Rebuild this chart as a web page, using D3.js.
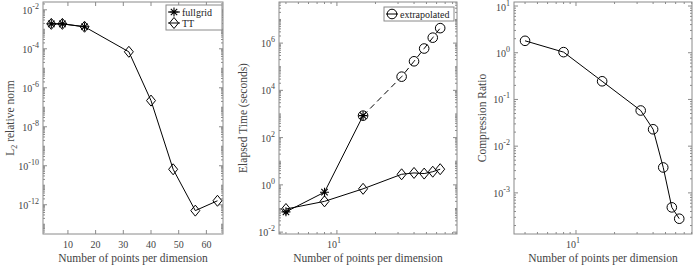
<!DOCTYPE html>
<html>
<head>
<meta charset="utf-8">
<script src="https://cdn.jsdelivr.net/npm/d3@7"></script>
<style>
  body { margin: 0; background: #fff; }
  text { font-family: 'Liberation Serif', 'Times New Roman', Times, serif; }
</style>
</head>
<body>
<svg id="chart" width="694" height="269"></svg>
<script>
// points per dimension
const N = [4, 8, 16, 32, 40, 48, 56, 64];
const N_FULL = [4, 8, 16];
const N_EXTRAP = [16, 32, 40, 48, 56, 64];

// L2 relative norm
const errFull = [1.9e-3, 1.9e-3, 1.35e-3];
const errTT = [1.9e-3, 1.9e-3, 1.35e-3, 7e-5, 2.2e-7, 6.6e-11, 5e-13, 1.6e-12];

// elapsed time (s)
const timeFull = [0.072, 0.49, 850];
const timeTT = [0.095, 0.2, 0.68, 2.8, 3.2, 3.0, 3.6, 4.6];
const timeExtrap = [850, 3.8e4, 1.7e5, 5.9e5, 1.7e6, 4.3e6];

// compression ratio
const ratioTT = [1.8, 1.03, 0.245, 0.058, 0.023, 0.0035, 4.9e-4, 2.8e-4];

// tick labels
const errTicks = [-12, -10, -8, -6, -4, -2];
const timeTicks = [-2, 0, 2, 4, 6];
const ratioTicks = [-3, -2, -1, 0, 1];
const linTicks = [10, 20, 30, 40, 50, 60];

const AX = '#8a8a8a';
const TXT = '#444';
const FONT = "'Liberation Serif', 'Times New Roman', Times, serif";
const svg = d3.select('#chart');

function diamond(g, x, y) {
    g.append('path').attr('d', `M${x},${y - 5.5}L${x + 4.5},${y}L${x},${y + 5.5}L${x - 4.5},${y}Z`)
        .attr('fill', 'none').attr('stroke', '#000').attr('stroke-width', 1);
}
function star(g, x, y) {
    const r = 4.5, d = 3.2;
    g.append('path').attr('d', `M${x - r},${y}H${x + r}M${x},${y - r}V${y + r}M${x - d},${y - d}L${x + d},${y + d}M${x - d},${y + d}L${x + d},${y - d}`)
        .attr('fill', 'none').attr('stroke', '#000').attr('stroke-width', 1.1);
}
function circle(g, x, y) {
    g.append('circle').attr('cx', x).attr('cy', y).attr('r', 4.8)
        .attr('fill', 'none').attr('stroke', '#000').attr('stroke-width', 1);
}

function supLabel(sel, exp) {
    sel.text('10');
    sel.append('tspan').attr('dy', -5).attr('font-size', 8).text(exp);
}

function txt(g) {
    return g.append('text').attr('font-family', FONT);
}

function panel(opt) {
    const g = svg.append('g');
    const [x0, x1] = opt.xr, [y0, y1] = [2, 234];
    const x = opt.xlog ? d3.scaleLog().domain(opt.xd).range([x0, x1]) : d3.scaleLinear().domain(opt.xd).range([x0, x1]);
    const y = d3.scaleLog().domain(opt.yd).range([y1, y0]);

    // y ticks (major + minor), both sides
    const [ly0, ly1] = opt.yd.map(Math.log10);
    for (let e = Math.floor(ly0); e <= Math.ceil(ly1); e++) {
        for (let m = 1; m < 10; m++) {
            const v = m * Math.pow(10, e);
            if (Math.log10(v) < ly0 || Math.log10(v) > ly1) continue;
            const major = m === 1 && opt.yticks.includes(e);
            const len = major ? 4 : 2;
            const py = y(v);
            g.append('line').attr('x1', x0).attr('x2', x0 + len).attr('y1', py).attr('y2', py).attr('stroke', AX);
            g.append('line').attr('x1', x1).attr('x2', x1 - len).attr('y1', py).attr('y2', py).attr('stroke', AX);
        }
    }
    opt.yticks.forEach(e => {
        const py = Math.max(y(Math.pow(10, e)) + 4, 11);
        txt(g).attr('x', x0 - 4).attr('y', py)
            .attr('text-anchor', 'end').attr('font-size', 10).attr('fill', TXT)
            .call(s => supLabel(s, e));
    });

    // x ticks
    if (opt.xlog) {
        const [lx0, lx1] = opt.xd.map(Math.log10);
        for (let e = Math.floor(lx0); e <= Math.ceil(lx1); e++) {
            for (let m = 1; m < 10; m++) {
                const v = m * Math.pow(10, e);
                if (Math.log10(v) < lx0 || Math.log10(v) > lx1) continue;
                const len = m === 1 ? 4 : 2;
                const px = x(v);
                g.append('line').attr('x1', px).attr('x2', px).attr('y1', y1).attr('y2', y1 - len).attr('stroke', AX);
                g.append('line').attr('x1', px).attr('x2', px).attr('y1', y0).attr('y2', y0 + len).attr('stroke', AX);
            }
        }
        txt(g).attr('x', x(10) - 3).attr('y', y1 + 14)
            .attr('text-anchor', 'middle').attr('font-size', 10).attr('fill', TXT)
            .call(s => supLabel(s, 1));
    } else {
        linTicks.forEach(v => {
            const px = x(v);
            g.append('line').attr('x1', px).attr('x2', px).attr('y1', y1).attr('y2', y1 - 4).attr('stroke', AX);
            g.append('line').attr('x1', px).attr('x2', px).attr('y1', y0).attr('y2', y0 + 4).attr('stroke', AX);
            txt(g).attr('x', px).attr('y', y1 + 14)
                .attr('text-anchor', 'middle').attr('font-size', 10).attr('fill', TXT).text(v);
        });
    }

    // box
    g.append('rect').attr('x', x0).attr('y', y0).attr('width', x1 - x0).attr('height', y1 - y0)
        .attr('fill', 'none').attr('stroke', AX).attr('stroke-width', 1);

    // labels
    txt(g).attr('x', (x0 + x1) / 2).attr('y', 262).attr('text-anchor', 'middle')
        .attr('font-size', 11.5).attr('fill', TXT).text('Number of points per dimension');
    const yl = txt(g).attr('transform', `translate(${opt.ylx},${(y0 + y1) / 2}) rotate(-90)`)
        .attr('text-anchor', 'middle').attr('font-size', 11.5).attr('fill', TXT);
    if (opt.ylabelSub) {
        yl.text('L');
        yl.append('tspan').attr('dy', 3).attr('font-size', 8).text('2');
        yl.append('tspan').attr('dy', -3).text(' relative norm');
    } else yl.text(opt.ylabel);

    // series
    const line = d3.line().x(d => x(d[0])).y(d => y(d[1]));
    opt.series.forEach(s => {
        const pts = s.xs.map((v, i) => [v, s.ys[i]]);
        g.append('path').attr('d', line(pts)).attr('fill', 'none').attr('stroke', '#000')
            .attr('stroke-width', 1).attr('stroke-dasharray', s.dash ? '6,4' : null);
        pts.forEach(p => s.marker(g, x(p[0]), y(p[1])));
    });

    // legend
    if (opt.legend) {
        const L = opt.legend;
        g.append('rect').attr('x', L.x).attr('y', L.y).attr('width', L.w).attr('height', L.h)
            .attr('fill', '#fff').attr('stroke', AX);
        L.items.forEach((it, i) => {
            const cy = L.y + 7 + i * 11;
            g.append('line').attr('x1', L.x + 2).attr('x2', L.x + 14).attr('y1', cy).attr('y2', cy)
                .attr('stroke', '#000');
            it.marker(g, L.x + 8, cy);
            txt(g).attr('x', L.x + 16).attr('y', cy + 3.5).attr('font-size', 10)
                .attr('fill', '#222').text(it.label);
        });
    }
}

panel({
    xr: [43, 223], xd: [1, 66], xlog: false,
    yd: [Math.pow(10, -13.5), Math.pow(10, -1.6)], yticks: errTicks,
    ylx: 14, ylabelSub: true,
    series: [
        { xs: N, ys: errTT, marker: diamond },
        { xs: N_FULL, ys: errFull, marker: star }
    ],
    legend: { x: 166, y: 5, w: 56, h: 25, items: [
        { label: 'fullgrid', marker: star },
        { label: 'TT', marker: diamond }
    ] }
});

panel({
    xr: [279, 457], xd: [3.53, 86.6], xlog: true,
    yd: [Math.pow(10, -2.08), Math.pow(10, 7.74)], yticks: timeTicks,
    ylx: 247, ylabel: 'Elapsed Time (seconds)',
    series: [
        { xs: N_EXTRAP, ys: timeExtrap, marker: circle, dash: true },
        { xs: N, ys: timeTT, marker: diamond },
        { xs: N_FULL, ys: timeFull, marker: star }
    ],
    legend: { x: 384, y: 7, w: 70, h: 14, items: [
        { label: 'extrapolated', marker: circle }
    ] }
});

panel({
    xr: [514, 692], xd: [3.28, 80.5], xlog: true,
    yd: [Math.pow(10, -3.88), Math.pow(10, 1.086)], yticks: ratioTicks,
    ylx: 486, ylabel: 'Compression Ratio',
    series: [
        { xs: N, ys: ratioTT, marker: circle }
    ]
});
</script>
</body>
</html>
